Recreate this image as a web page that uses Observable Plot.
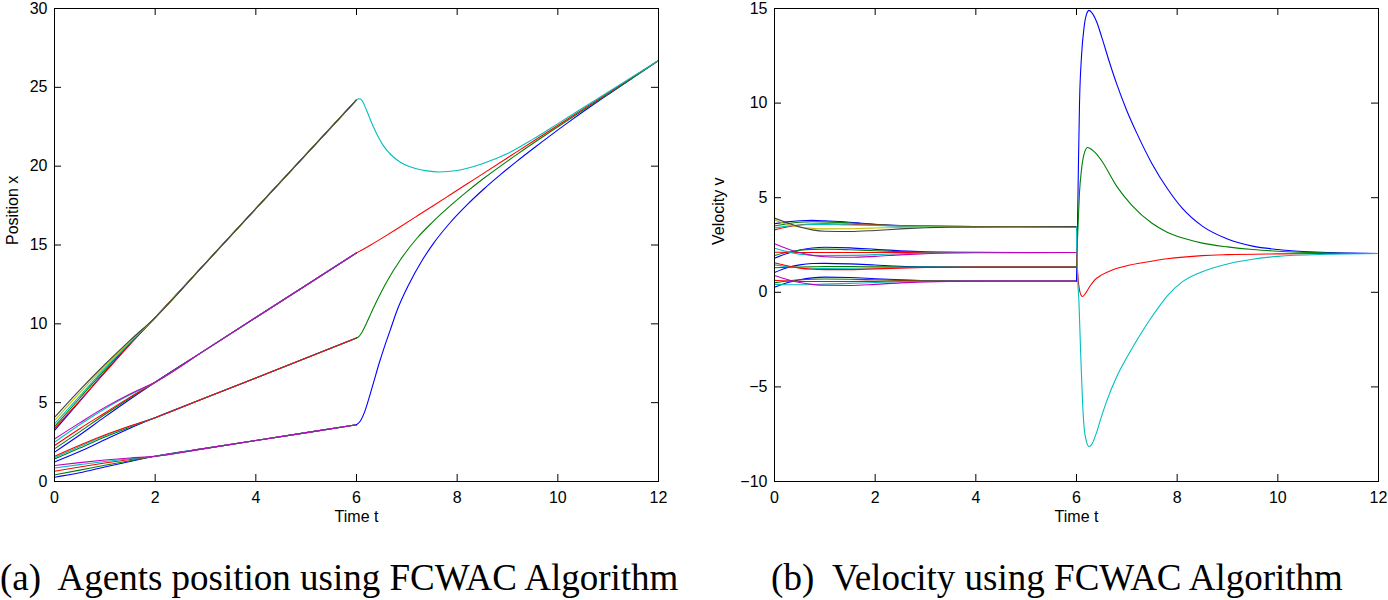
<!DOCTYPE html>
<html><head><meta charset="utf-8">
<script src="https://cdn.jsdelivr.net/npm/d3@7"></script>
<script src="https://cdn.jsdelivr.net/npm/@observablehq/plot@0.6"></script>
<style>
body{margin:0;background:#fff;}
#wrap{position:relative;width:1388px;height:600px;overflow:hidden;background:#fff;}
.panel{position:absolute;top:0;}
.cap{position:absolute;top:559px;font-family:"Liberation Serif","Times New Roman",serif;font-size:37px;line-height:37px;white-space:pre;text-align:center;color:#000;}
</style></head>
<body><div id="wrap">
<div id="left" class="panel" style="left:0"></div>
<div id="right" class="panel" style="left:700px"></div>
<div class="cap" style="left:0;width:676px">(a)  Agents position using FCWAC Algorithm</div>
<div class="cap" style="left:757px;width:600px">(b)  Velocity using FCWAC Algorithm</div>
</div>
<script>
// ---------- colours (MATLAB default order) ----------
const COLORS = {b:"#0000ff", g:"#008000", r:"#ff0000", c:"#00bfbf", m:"#bf00bf", y:"#bfbf00", k:"#404040"};

// ---------- ticks ----------
const timeTicks = [0,2,4,6,8,10,12];
const posTicks = [0,5,10,15,20,25,30];
const posTickLabels = ["0","5","10","15","20","25","30"];
const velTicks = [-10,-5,0,5,10,15];
const velTickLabels = ["\u221210","\u22125","0","5","10","15"];

// ---------- velocity, t in [0,6] ----------
const tPre = [0,0.25,0.5,0.75,1,1.5,2,2.5,3,4,6];
const velAColors = ["b","g","r","c","y","k"];
const velA = [
  [3.62,3.72,3.78,3.8,3.78,3.7,3.6,3.53,3.5,3.48,3.47],
  [3.5,3.62,3.7,3.73,3.72,3.66,3.58,3.52,3.49,3.47,3.47],
  [3.3,3.45,3.56,3.61,3.62,3.6,3.55,3.51,3.49,3.47,3.47],
  [3.4,3.5,3.56,3.58,3.58,3.56,3.53,3.5,3.48,3.47,3.47],
  [3.82,3.6,3.45,3.38,3.35,3.36,3.4,3.43,3.45,3.47,3.47],
  [3.92,3.68,3.45,3.3,3.23,3.21,3.27,3.35,3.41,3.46,3.47]
];
const velBColors = ["b","g","r","c","m"];
const velB = [
  [1.8,2.05,2.24,2.34,2.38,2.35,2.27,2.19,2.14,2.11,2.1],
  [1.95,2.12,2.22,2.27,2.28,2.25,2.2,2.15,2.12,2.1,2.1],
  [2.12,2.11,2.1,2.1,2.1,2.1,2.1,2.1,2.1,2.1,2.1],
  [2.33,2.15,2.02,1.96,1.94,1.95,1.99,2.04,2.07,2.1,2.1],
  [2.56,2.3,2.1,1.95,1.88,1.85,1.9,1.98,2.04,2.09,2.1]
];
const velCColors = ["b","g","c","r"];
const velC = [
  [1.05,1.3,1.45,1.52,1.53,1.5,1.44,1.38,1.35,1.33,1.33],
  [1.3,1.32,1.34,1.35,1.36,1.36,1.35,1.34,1.33,1.33,1.33],
  [1.45,1.36,1.3,1.27,1.26,1.27,1.29,1.31,1.32,1.33,1.33],
  [1.56,1.4,1.28,1.22,1.2,1.2,1.24,1.28,1.31,1.33,1.33]
];
const velDColors = ["b","g","r","c","m"];
const velD = [
  [0.27,0.5,0.66,0.76,0.8,0.78,0.72,0.66,0.62,0.6,0.6],
  [0.51,0.6,0.66,0.69,0.7,0.69,0.66,0.63,0.61,0.6,0.6],
  [0.63,0.6,0.58,0.57,0.57,0.57,0.58,0.59,0.6,0.6,0.6],
  [0.42,0.4,0.4,0.41,0.43,0.47,0.52,0.56,0.58,0.6,0.6],
  [0.89,0.68,0.52,0.42,0.37,0.36,0.42,0.5,0.55,0.59,0.6]
];

// ---------- velocity, t in [6,12] ----------
const postVelBlueT = [6,6.02,6.04,6.06,6.1,6.15,6.2,6.25,6.3,6.4,6.5,6.65,6.8,7.0,7.2,7.5,7.8,8.1,8.5,9.0,9.5,10,10.5,11,11.5,12];
const postVelBlueV = [0.6,3.5,7.0,10.0,12.5,14.0,14.7,14.9,14.8,14.3,13.5,12.2,11.0,9.6,8.4,6.8,5.5,4.45,3.5,2.82,2.44,2.26,2.16,2.1,2.07,2.05];
const postVelGreenT = [6,6.03,6.06,6.1,6.15,6.22,6.3,6.4,6.5,6.8,7.1,7.5,7.8,8.2,8.5,9,9.5,10,11,12];
const postVelGreenV = [1.33,3.5,5.3,6.5,7.3,7.65,7.55,7.3,6.95,5.6,4.6,3.65,3.18,2.8,2.6,2.4,2.26,2.17,2.08,2.05];
const postVelRedT = [6,6.03,6.07,6.12,6.18,6.25,6.35,6.5,6.7,7.0,7.4,7.8,8.5,9,10,11,12];
const postVelRedV = [2.1,0.8,0.0,-0.22,-0.05,0.25,0.62,0.92,1.17,1.4,1.6,1.77,1.94,1.99,2.03,2.05,2.05];
const postVelCyanT = [6,6.02,6.05,6.08,6.12,6.15,6.2,6.25,6.3,6.4,6.48,6.6,6.81,7.0,7.14,7.3,7.47,7.67,7.8,8.1,8.46,9,9.5,10,11,12];
const postVelCyanV = [3.47,1.0,-0.6,-3.0,-5.8,-7.1,-7.9,-8.15,-8.05,-7.4,-6.7,-5.75,-4.4,-3.45,-2.8,-2.1,-1.4,-0.65,-0.2,0.55,1.05,1.5,1.75,1.9,2.01,2.05];

// ---------- position, t in [0,6] ----------
const tPos = [0,0.5,1,1.5,2,3,4,6];
const posA = [
  [3.23,5.08,6.95,8.72,10.4,13.85,17.3,24.2],
  [3.48,5.28,7.08,8.78,10.4,13.85,17.3,24.2],
  [3.35,5.12,6.9,8.7,10.4,13.85,17.3,24.2],
  [3.65,5.42,7.18,8.82,10.4,13.85,17.3,24.2],
  [3.86,5.62,7.28,8.88,10.4,13.85,17.3,24.2],
  [4.07,5.8,7.42,8.95,10.4,13.85,17.3,24.2]
];
const posB = [
  [1.86,2.95,4.1,5.22,6.3,8.35,10.4,14.5],
  [2.07,3.15,4.25,5.3,6.3,8.35,10.4,14.5],
  [2.28,3.35,4.35,5.35,6.3,8.35,10.4,14.5],
  [2.49,3.6,4.62,5.5,6.3,8.35,10.4,14.5],
  [2.7,3.72,4.7,5.55,6.3,8.35,10.4,14.5]
];
const posC = [
  [1.24,1.9,2.65,3.38,4.05,5.31,6.57,9.1],
  [1.43,2.12,2.82,3.45,4.05,5.31,6.57,9.1],
  [1.52,2.22,2.9,3.5,4.05,5.31,6.57,9.1],
  [1.6,2.3,2.95,3.52,4.05,5.31,6.57,9.1]
];
const posD = [
  [0.27,0.55,0.92,1.27,1.6,2.1,2.6,3.6],
  [0.42,0.72,1.03,1.32,1.6,2.1,2.6,3.6],
  [0.65,0.92,1.17,1.4,1.6,2.1,2.6,3.6],
  [0.86,1.07,1.27,1.44,1.6,2.1,2.6,3.6],
  [1.01,1.2,1.36,1.49,1.6,2.1,2.6,3.6]
];

// ---------- position, t in [6,12] ----------
const postPosBlueT = [6,6.08,6.16,6.25,6.35,6.45,6.54,6.67,6.8,7.04,7.3,7.54,7.85,8.2,8.53,8.86,9.19,9.52,9.85,10.2,10.6,11,11.5,12];
const postPosBlueX = [3.6,3.85,4.4,5.3,6.4,7.5,8.4,9.6,10.8,12.5,14.0,15.15,16.38,17.56,18.55,19.46,20.32,21.14,21.94,22.76,23.67,24.55,25.63,26.7];
const postPosGreenT = [6,6.05,6.1,6.2,6.3,6.4,6.5,6.61,6.87,7.21,7.5,7.87,8.2,8.53,9.19,9.85,10.5,11,11.5,12];
const postPosGreenX = [9.1,9.2,9.42,10.05,10.75,11.43,12.07,12.72,14.05,15.46,16.42,17.51,18.4,19.23,20.75,22.18,23.55,24.58,25.62,26.7];
const postPosRedT = [6,6.1,6.3,6.54,6.8,7.21,7.5,7.87,8.2,8.53,9.19,9.85,10.5,11,11.5,12];
const postPosRedX = [14.5,14.67,15.03,15.5,16.02,16.85,17.44,18.2,18.88,19.56,20.92,22.28,23.62,24.65,25.68,26.7];
const postPosCyanT = [6,6.05,6.1,6.2,6.3,6.41,6.54,6.68,6.87,7.05,7.21,7.4,7.64,8.0,8.5,9.0,9.5,10,10.5,11,11.5,12];
const postPosCyanX = [24.2,24.28,24.2,23.55,22.75,22.0,21.27,20.74,20.25,19.98,19.82,19.7,19.63,19.72,20.15,20.8,21.7,22.7,23.7,24.7,25.7,26.7];

// ---------- helpers ----------
const pts = (ts, vs) => ts.map((t, i) => ({t, v: vs[i]}));
function clusterSeries(ts, rows, colorKeys) {
  return rows.map((row, i) => ({points: pts(ts, row), color: COLORS[colorKeys[i]]}));
}

const posSeries = [
  ...clusterSeries(tPos, posA, velAColors),
  ...clusterSeries(tPos, posB, velBColors),
  ...clusterSeries(tPos, posC, velCColors),
  ...clusterSeries(tPos, posD, velDColors),
  {points: pts(postPosBlueT, postPosBlueX), color: COLORS.b},
  {points: pts(postPosGreenT, postPosGreenX), color: COLORS.g},
  {points: pts(postPosRedT, postPosRedX), color: COLORS.r},
  {points: pts(postPosCyanT, postPosCyanX), color: COLORS.c}
];
const velSeries = [
  ...clusterSeries(tPre, velA, velAColors),
  ...clusterSeries(tPre, velB, velBColors),
  ...clusterSeries(tPre, velC, velCColors),
  ...clusterSeries(tPre, velD, velDColors),
  {points: pts(postVelBlueT, postVelBlueV), color: COLORS.b},
  {points: pts(postVelGreenT, postVelGreenV), color: COLORS.g},
  {points: pts(postVelRedT, postVelRedV), color: COLORS.r},
  {points: pts(postVelCyanT, postVelCyanV), color: COLORS.c}
];

const FONT = "'Liberation Sans', Arial, Helvetica, sans-serif";

function makePanel({width, height, ml, mr, mt, mb, yDomain, yTicks, yLabels, series, ylabel, ylabelDx}) {
  const xDomain = [0, 12];
  const tickPx = 7;
  const kx = tickPx * (xDomain[1] - xDomain[0]) / (width - ml - mr);
  const ky = tickPx * (yDomain[1] - yDomain[0]) / (height - mt - mb);
  const marks = series.map(s => Plot.line(s.points, {x: "t", y: "v", stroke: s.color, strokeWidth: 1.1, curve: "monotone-x"}));
  marks.push(
    Plot.frame({stroke: "black", strokeWidth: 1}),
    Plot.ruleX(timeTicks, {x: d => d, y1: yDomain[0], y2: yDomain[0] + ky, stroke: "black"}),
    Plot.ruleX(timeTicks, {x: d => d, y1: yDomain[1], y2: yDomain[1] - ky, stroke: "black"}),
    Plot.ruleY(yTicks, {y: d => d, x1: xDomain[0], x2: xDomain[0] + kx, stroke: "black"}),
    Plot.ruleY(yTicks, {y: d => d, x1: xDomain[1], x2: xDomain[1] - kx, stroke: "black"}),
    Plot.axisX(timeTicks, {tickSize: 0, tickPadding: 10, label: null, fontSize: 16}),
    Plot.axisY(yTicks, {tickSize: 0, tickPadding: 7, label: null, fontSize: 16,
      tickFormat: d => yLabels[yTicks.indexOf(d)]}),
    Plot.text(["Time t"], {text: d => d, frameAnchor: "bottom", dy: 40, fontSize: 16}),
    Plot.text([ylabel], {text: d => d, frameAnchor: "left", rotate: -90, dx: ylabelDx, fontSize: 16})
  );
  return Plot.plot({
    width, height, marginLeft: ml, marginRight: mr, marginTop: mt, marginBottom: mb,
    x: {domain: xDomain},
    y: {domain: yDomain},
    style: {fontFamily: FONT, fontSize: "16px", background: "white", color: "black", overflow: "visible"},
    marks
  });
}

document.getElementById("left").appendChild(makePanel({
  width: 680, height: 530, ml: 54, mr: 22, mt: 8, mb: 49,
  yDomain: [0, 30], yTicks: posTicks, yLabels: posTickLabels,
  series: posSeries, ylabel: "Position x", ylabelDx: -42
}));
document.getElementById("right").appendChild(makePanel({
  width: 688, height: 530, ml: 74, mr: 10, mt: 8, mb: 49,
  yDomain: [-10, 15], yTicks: velTicks, yLabels: velTickLabels,
  series: velSeries, ylabel: "Velocity v", ylabelDx: -56
}));
</script>
</body></html>
